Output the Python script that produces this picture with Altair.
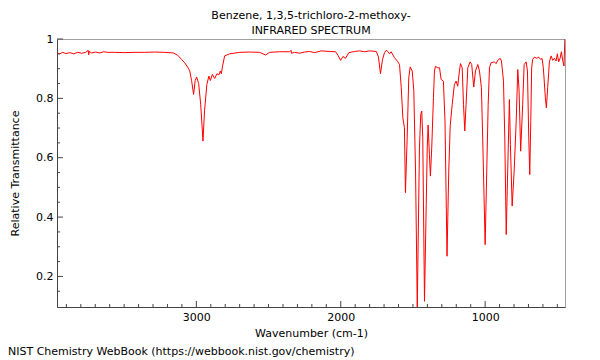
import altair as alt
import pandas as pd

# Spectrum (wavenumber cm-1, relative transmittance)
wavenumber = [3965, 3946, 3925, 3904, 3877, 3849, 3821, 3794, 3766, 3749, 3745, 3742,
              3725, 3697, 3669, 3641, 3614, 3565, 3496, 3427, 3358, 3289, 3219, 3159,
              3129, 3102, 3081, 3060, 3046, 3033, 3019, 3008, 2998, 2984, 2970, 2954,
              2943, 2927, 2913, 2903, 2889, 2873, 2857, 2844, 2834, 2827, 2818, 2804,
              2770, 2700, 2631, 2562, 2520, 2493, 2424, 2354, 2344, 2341, 2320, 2285,
              2251, 2216, 2181, 2135, 2078, 2036, 2019, 2001, 1985, 1967, 1944, 1904,
              1870, 1835, 1801, 1754, 1739, 1725, 1711, 1697, 1685, 1674, 1662, 1651,
              1628, 1607, 1593, 1581, 1570, 1559, 1552, 1540, 1529, 1519, 1505, 1494,
              1482, 1470, 1455, 1446, 1439, 1432, 1420, 1408, 1401, 1395, 1386, 1379,
              1370, 1358, 1351, 1344, 1328, 1316, 1305, 1289, 1278, 1264, 1252, 1242,
              1228, 1213, 1201, 1190, 1178, 1171, 1159, 1150, 1141, 1132, 1120, 1104,
              1093, 1079, 1067, 1051, 1039, 1026, 1017, 1000, 989, 979, 970, 959,
              936, 924, 913, 896, 887, 873, 864, 854, 844, 832, 825, 813,
              799, 785, 774, 765, 754, 740, 730, 716, 707, 698, 691, 684,
              678, 671, 659, 643, 629, 615, 606, 597, 583, 576, 567, 555,
              543, 532, 520, 509, 500, 491, 481, 472, 463, 454, 448]
transmittance = [0.953, 0.950, 0.955, 0.951, 0.954, 0.950, 0.955, 0.952, 0.955, 0.962, 0.947, 0.958,
                 0.953, 0.956, 0.953, 0.957, 0.955, 0.955, 0.954, 0.955, 0.955, 0.956, 0.955, 0.953,
                 0.945, 0.931, 0.920, 0.905, 0.893, 0.860, 0.813, 0.860, 0.872, 0.850, 0.780, 0.656,
                 0.760, 0.847, 0.875, 0.860, 0.881, 0.867, 0.883, 0.879, 0.892, 0.883, 0.910, 0.943,
                 0.950, 0.955, 0.956, 0.955, 0.946, 0.955, 0.957, 0.957, 0.962, 0.952, 0.955, 0.952,
                 0.956, 0.958, 0.954, 0.960, 0.958, 0.957, 0.945, 0.928, 0.941, 0.935, 0.954, 0.958,
                 0.960, 0.957, 0.960, 0.958, 0.940, 0.883, 0.930, 0.954, 0.962, 0.958, 0.950, 0.957,
                 0.937, 0.925, 0.914, 0.836, 0.735, 0.701, 0.482, 0.667, 0.869, 0.906, 0.892, 0.825,
                 0.555, 0.097, 0.633, 0.746, 0.757, 0.667, 0.116, 0.442, 0.633, 0.710, 0.611, 0.538,
                 0.633, 0.802, 0.892, 0.908, 0.903, 0.903, 0.864, 0.858, 0.723, 0.268, 0.555, 0.707,
                 0.780, 0.847, 0.858, 0.841, 0.892, 0.917, 0.903, 0.780, 0.690, 0.780, 0.903, 0.923,
                 0.914, 0.838, 0.892, 0.914, 0.892, 0.836, 0.667, 0.307, 0.555, 0.780, 0.903, 0.920,
                 0.923, 0.917, 0.928, 0.935, 0.926, 0.858, 0.667, 0.341, 0.555, 0.796, 0.645, 0.437,
                 0.555, 0.723, 0.897, 0.825, 0.622, 0.780, 0.914, 0.923, 0.892, 0.667, 0.543, 0.723,
                 0.903, 0.931, 0.939, 0.935, 0.939, 0.931, 0.935, 0.903, 0.802, 0.768, 0.836, 0.923,
                 0.943, 0.928, 0.935, 0.926, 0.950, 0.923, 0.935, 0.957, 0.928, 0.909, 1.000]

x_major = [1000, 2000, 3000]
x_minor = [v for v in range(500, 4000, 100) if v not in x_major]
y_major = [0.2, 0.4, 0.6, 0.8, 1.0]
y_minor = [0.15, 0.25, 0.3, 0.35, 0.45, 0.5, 0.55, 0.65, 0.7, 0.75, 0.85, 0.9, 0.95]

title_lines = ["Benzene, 1,3,5-trichloro-2-methoxy-", "INFRARED SPECTRUM"]
x_title = "Wavenumber (cm-1)"
y_title = "Relative Transmittance"
footer = "NIST Chemistry WebBook (https://webbook.nist.gov/chemistry)"

W, H = 508, 268
FONT = "DejaVu Sans"

spec = pd.DataFrame({"wn": wavenumber, "t": transmittance})
xs = alt.Scale(domain=[3965, 447], nice=False, zero=False)
ys = alt.Scale(domain=[0.097, 1.0], nice=False, zero=False)

line = alt.Chart(spec).mark_line(color="#ff0000", strokeWidth=1, clip=True).encode(
    x=alt.X("wn:Q", scale=xs, title=x_title,
            axis=alt.Axis(values=x_major, ticks=False, grid=False, domainColor="#444",
                          labelPadding=4, titlePadding=5, format="d")),
    y=alt.Y("t:Q", scale=ys, title=y_title,
            axis=alt.Axis(values=y_major, ticks=False, grid=False, domainColor="#444",
                          labelPadding=4, titlePadding=15, format="~g")),
)

def xticks(vals, length):
    return alt.Chart(pd.DataFrame({"v": vals})).mark_rule(color="#444", strokeWidth=1).encode(
        x=alt.X("v:Q", scale=xs), y=alt.value(H - length), y2=alt.value(H))

def yticks(vals, length):
    return alt.Chart(pd.DataFrame({"v": vals})).mark_rule(color="#444", strokeWidth=1).encode(
        y=alt.Y("v:Q", scale=ys), x=alt.value(0), x2=alt.value(length))

foot = alt.Chart(pd.DataFrame({"s": [footer]})).mark_text(
    align="left", baseline="alphabetic", font=FONT, fontSize=11, color="#000"
).encode(text="s:N", x=alt.value(-49), y=alt.value(H + 48))

chart = alt.layer(
    line, xticks(x_minor, 3), xticks(x_major, 6), yticks(y_minor, 3), yticks(y_major, 6), foot
).properties(
    width=W, height=H,
    title=alt.TitleParams(text=title_lines, anchor="middle", fontSize=11, fontWeight="normal",
                          font=FONT, color="#000", offset=-3, lineHeight=15),
    autosize=alt.AutoSizeParams(type="none"),
    padding={"left": 49, "top": 31, "right": 26, "bottom": 53},
).configure_view(
    stroke="#a0a0a0", strokeWidth=1
).configure_axis(
    labelFont=FONT, titleFont=FONT, labelFontSize=11, titleFontSize=11,
    labelColor="#000", titleColor="#000", titleFontWeight="normal"
)

chart.save("out.html", embed_options={"renderer": "svg", "actions": False})
